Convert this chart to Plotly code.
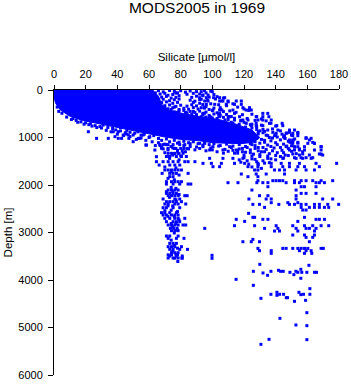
import plotly.graph_objects as go

title = "MODS2005 in 1969"
x_label = "Silicate [µmol/l]"
y_label = "Depth [m]"
x_ticks = [0, 20, 40, 60, 80, 100, 120, 140, 160, 180]
y_ticks = [0, 1000, 2000, 3000, 4000, 5000, 6000]
blue = "#0000ff"

# outline of the saturated core, where individual samples merge
core_si = [0, 62, 66, 68, 72, 82, 92, 104, 115, 125, 130, 126, 118, 100, 92, 80, 70, 60, 52, 44, 36, 28, 18, 10, 4, 1, 0]
core_depth = [0, 0, 130, 300, 420, 500, 560, 620, 720, 840, 1000, 1100, 1130, 1110, 1070, 1040, 990, 920, 870, 820, 760, 710, 640, 550, 420, 280, 150]

# shallow speckled samples above the core
upper_si = [62, 66, 69, 73, 76, 80, 83, 86, 90, 95, 99, 88, 92, 96, 101, 78, 84, 90, 94, 98, 87, 103, 107, 93, 97, 102, 106, 110, 88, 92, 99, 104, 109, 113, 116, 120, 123, 96, 101, 106, 111, 115, 119, 125, 128, 131, 134, 127, 122, 137, 131, 125, 140]
upper_depth = [25, 15, 40, 10, 30, 15, 45, 20, 35, 12, 25, 70, 85, 60, 95, 60, 90, 130, 120, 150, 155, 140, 170, 195, 215, 190, 230, 250, 260, 280, 290, 310, 330, 290, 360, 400, 430, 350, 380, 420, 440, 470, 520, 510, 560, 610, 650, 640, 600, 700, 740, 720, 760]
fill_si = [64, 67, 70, 72, 75, 77, 79, 68, 71, 74, 77, 66, 69, 73, 76, 79, 68, 71, 75, 78, 86, 89, 92, 70, 73, 77, 80, 84, 87, 90, 94, 72, 75, 79, 82, 85, 88, 91, 95, 98, 76, 79, 83, 86, 89, 92, 96, 100, 103, 107, 84, 87, 90, 94, 98, 101, 105, 109, 112, 95, 99, 103, 107, 110, 114, 118, 120, 70, 74, 78, 84, 90, 96, 100, 108, 112, 117, 121, 125, 129, 132, 118, 124, 128, 110, 104, 95, 88, 82, 76]
fill_depth = [60, 85, 70, 110, 95, 65, 120, 150, 135, 170, 155, 210, 195, 225, 205, 190, 265, 250, 280, 260, 215, 235, 205, 330, 315, 345, 320, 340, 310, 335, 305, 395, 375, 410, 385, 405, 370, 400, 380, 410, 460, 440, 470, 450, 475, 445, 465, 435, 480, 455, 530, 510, 540, 515, 535, 505, 530, 515, 560, 590, 570, 600, 575, 620, 595, 640, 680, 380, 410, 470, 480, 520, 570, 590, 630, 680, 720, 780, 800, 880, 830, 650, 730, 770, 560, 530, 490, 450, 430, 360]

# right edge of the shallow cloud, each depth row with its silicate readings
edge_depths = [35, 105, 162, 232, 302, 372, 422, 492, 562, 632, 702, 751, 843, 892, 962, 1004, 1053, 1102, 1123, 1194, 1264, 1348, 1369, 1425]
edge_si = [
    [93, 100],
    [94, 97.3],
    [92, 96.2, 100.8, 104.6, 107.8],
    [95.2, 97.3, 104.6, 106.7, 109.9, 115.1, 118.3],
    [96.2, 101.5, 108.8, 114, 118.3],
    [93, 95, 105, 119.3, 123.5],
    [100.4, 104.6, 113, 121.4, 124.6],
    [94.1, 104.6, 114, 131.9, 135],
    [93, 98.3, 104.6, 110.9, 117.2, 127.7, 131.9, 135.7],
    [114, 119.3, 122.5, 128.8, 131.9, 137.2],
    [93, 113, 121.4, 127.7, 136.1, 144.1],
    [124.6, 127.7, 131.9, 140.7, 144.5],
    [135, 141.4, 148.7, 151.9],
    [138.2, 148.7, 154],
    [139.3, 145.6, 150.8, 154],
    [145.6, 159.2],
    [148.7, 150.8, 161.3],
    [149.8, 154, 163.4],
    [164.5],
    [151.9, 154, 158.2, 168.7],
    [151.9, 158.2, 164.5],
    [168.7],
    [155, 161.3, 169.7],
    [151.9, 156, 159.2, 163.4],
]

# busy band below the core and jagged samples along its lower edge
band_si = [128, 133, 138, 143, 147, 150, 129, 135, 140, 145, 128, 133, 138, 143, 148, 152, 125, 130, 135, 140, 145, 150, 154, 119, 124, 129, 134, 139, 144, 148, 116, 121, 126, 131, 136, 141, 146, 120, 125, 130, 135, 140, 145, 118, 123, 128, 133, 116, 112, 108, 104, 99, 94, 90, 86, 82, 78, 74, 70, 66, 72, 77, 81, 85, 68, 70, 75, 79, 83, 64, 62, 58, 55, 52, 48, 44, 45, 40, 36, 33, 30, 27, 24, 22, 19, 15, 11, 8, 5, 3, 2]
band_depth = [830, 870, 820, 860, 905, 950, 925, 960, 940, 985, 1020, 1060, 1010, 1050, 1080, 1030, 1150, 1120, 1160, 1110, 1140, 1175, 1120, 1230, 1260, 1210, 1250, 1220, 1270, 1230, 1330, 1310, 1350, 1300, 1340, 1320, 1370, 1420, 1450, 1400, 1440, 1470, 1430, 1520, 1560, 1510, 1540, 1280, 1210, 1250, 1180, 1220, 1160, 1200, 1130, 1170, 1120, 1190, 1140, 1110, 1260, 1230, 1280, 1240, 1210, 1320, 1370, 1340, 1300, 1170, 1090, 1060, 1010, 1040, 980, 960, 900, 930, 880, 850, 800, 790, 760, 730, 720, 680, 620, 570, 490, 450, 360]
lower_si = [12, 14, 17, 20, 23, 26, 29, 31, 34, 37, 39, 42, 42, 46, 48, 51, 53, 55, 57, 60, 63, 66, 68, 71, 73, 76, 79, 82, 85, 88, 91, 95, 98, 101, 105, 109, 113, 117, 121, 124, 127]
lower_depth = [600, 640, 670, 690, 710, 750, 770, 740, 790, 810, 840, 860, 790, 850, 890, 910, 880, 950, 930, 1000, 960, 1020, 1060, 1030, 1090, 1060, 1100, 1080, 1110, 1090, 1130, 1110, 1150, 1130, 1170, 1140, 1180, 1150, 1190, 1130, 1170]
cluster_si = [130, 132, 134, 136, 131, 127, 133, 137, 141, 144, 146, 149, 151, 141, 137, 132, 127, 122, 117, 113, 119, 124, 129, 133, 138, 143, 147, 152, 155, 150, 145, 140, 135, 130, 125, 120, 114, 127, 132, 137, 143, 148, 153, 157, 122, 117, 129, 136, 125, 131, 67, 69, 72, 75, 78, 82, 86, 89, 92, 96, 100, 103, 107, 110, 76, 80, 73]
cluster_depth = [860, 900, 950, 1000, 1040, 1090, 1100, 1070, 990, 930, 1020, 1100, 1060, 1150, 1190, 1210, 1230, 1210, 1240, 1270, 1300, 1320, 1280, 1300, 1280, 1210, 1180, 1200, 1240, 1290, 1320, 1380, 1390, 1360, 1390, 1370, 1330, 1460, 1490, 1450, 1400, 1380, 1340, 1300, 1490, 1470, 1570, 1530, 1620, 1650, 1170, 1240, 1150, 1220, 1270, 1230, 1190, 1260, 1230, 1280, 1260, 1300, 1330, 1290, 1340, 1390, 1400]

# isolated samples left of the core's lower edge
wing_si = [21.7, 26.9, 34.3, 37.4, 38.5, 40.6, 40.6, 42.7, 43.7, 45.8, 46.9, 47.3, 50, 50, 53.2, 54.2, 56.3, 58, 58.4, 60.5, 63.7, 64.7]
wing_depth = [878, 1018, 1018, 878, 982, 878, 1018, 1018, 948, 927, 947, 1018, 948, 1088, 1018, 1018, 947, 1158, 1158, 982, 1264, 1404]

# narrow column of deep samples near 75 µmol/l
column_depths = [1150, 1230, 1333, 1400, 1509, 1580, 1684, 1755, 1825, 1930, 1980, 2106, 2176, 2225, 2295, 2351, 2400, 2478, 2583, 2632, 2702, 2772, 2842, 2913, 2962, 3074, 3123, 3229, 3299, 3355, 3425, 3495, 3537, 3470, 3540, 3610]
column_si = [
    [66.8, 68.9, 71, 75.2, 79.4, 82.6],
    [68, 72, 76, 80, 84],
    [72.1, 74.2, 76.3, 78.4, 81.5],
    [71, 73.1, 77.3, 80.5, 83.6],
    [64.7, 68.9, 72.1, 75.2, 78.4, 82.6, 84.7, 89],
    [66.4, 73.1, 76.3, 79.4],
    [70, 72.1, 74.2, 76.3, 78.4, 80.5],
    [68.3, 73.1, 75.2, 77.3, 84.7],
    [73.1, 75.2],
    [71, 74.2, 76.3, 78.4, 80.5],
    [71, 75.2, 79.4, 84.7, 86.4],
    [72.1, 74.2, 76.3, 78.4],
    [71, 73.1, 75.2, 77.3],
    [72.1, 74.2, 76.3, 78.4, 82.6, 84.1],
    [68.9, 76.3, 79.4],
    [71, 73.1, 75.2, 77.3, 80.5],
    [70, 72.1, 76.3, 78.4, 83.2],
    [68.9, 71, 75.2, 79.4],
    [67.9, 70, 73.1, 77.3],
    [68.9, 71, 74.2, 76.3, 78.4],
    [70, 73.1, 76.3, 78.4, 82.6],
    [71, 75.2, 77.3, 79.4],
    [72.1, 74.2, 76.3, 78.4, 81.5, 83.2],
    [73.5, 75.6, 77.7],
    [74.2, 76.3, 78.4],
    [71, 73.1, 78.4],
    [72.1, 77.3, 82.1],
    [73.1, 75.2, 77.3],
    [72.1, 74.2, 76.3, 80.5],
    [73.1, 75.2, 79.4, 84.3],
    [74.2, 76.3, 78.4],
    [73.1, 77.3, 81],
    [72.1, 75.2, 78.4, 80.9],
    [72.1, 74.2, 78],
    [76.3, 80.9],
    [78.2],
]
column_extra_si = [74, 78, 73, 79, 70, 77, 74, 79, 72, 76, 74, 77, 71, 75, 79, 73, 77, 75, 72, 70, 74, 78, 72, 76, 79, 74, 77, 75, 78, 76, 74, 76, 78, 75, 77]
column_extra_depth = [1190, 1290, 1440, 1470, 1620, 1640, 1720, 1790, 1860, 1890, 2050, 2070, 2140, 2140, 2200, 2260, 2310, 2440, 2440, 2540, 2530, 2560, 2660, 2670, 2735, 2810, 2810, 2880, 2950, 3010, 3160, 3270, 3330, 3390, 3460]

# scattered samples to the right of the column
right_depths = [912, 1018, 1123, 1193, 1263, 1347, 1439, 1544, 1614, 1684, 1769, 1825, 1909, 1951, 2036, 2106, 2176, 2225, 2295, 2372, 2408, 2471, 2527, 2597, 2681, 2723, 2766, 2857, 2913, 2969, 3053, 3102, 3145, 3194, 3334, 3383, 3439, 3480]
right_si = [
    [140.3, 146.6, 150.8, 154],
    [159.2, 162.4],
    [92, 95.2, 150.8, 160.3, 164.5],
    [94.1, 100.4, 110.9, 146.6, 168.7],
    [98.3, 106.7, 115.1, 148.7, 155, 168.7],
    [150.8, 157.1, 167.6],
    [98.3, 106.7, 113, 119.3, 144.5, 152.9, 157.1, 162.4],
    [94.1, 99.4, 105.7, 114, 120.4, 128.8, 137.2, 143.5, 148.7, 155, 165.5, 178.5],
    [100.4, 104.6, 122.5, 128.8, 137.2, 144.5, 148.7, 154, 158.2, 167.6],
    [126.7, 128.8, 139.3, 142.4, 145.6, 152.9, 159.2, 164.5],
    [118.3, 127.7, 134, 145.6],
    [122.5, 128.8],
    [128.8, 138.2, 140.3, 142.4, 144.5, 151.9, 156.1, 159.2, 163.4, 168.7, 176],
    [109.9, 116.2, 128.1, 131.9, 135.1, 146.6, 151.9, 155, 165.5, 167.6, 170.8],
    [135.1, 156.1, 158.2, 165.5],
    [125, 152.9],
    [156.1, 159.2, 165.5],
    [129.8, 135.1, 152.9],
    [123.1, 134, 137.2, 152.9, 169.7, 176],
    [137.2, 147.7, 154],
    [125.6, 129.8, 142, 148.7, 151.9, 156.1, 159.2, 164.5, 167.6, 172.9, 179.8],
    [133, 156.1, 161.3, 164.5, 167.6, 170.8, 173.5],
    [157.1, 159.2],
    [122.9],
    [125.6, 126.7, 158.2],
    [115.1, 131.9, 135.1, 165.5, 167.6, 170.8],
    [120.4, 154],
    [114, 126.7, 140.3, 150.8, 158.2, 163.4, 168.7, 173.5],
    [95.2, 133, 141.4, 152.9, 159.2, 161.3, 165.5],
    [139.3, 142.4, 154, 164.5],
    [150.8, 158.2, 164.5],
    [159.2, 163.4],
    [125.6],
    [119.3, 124.6, 129.8, 161.3],
    [128.8, 144.5, 146.6, 150.8, 154, 156.1, 158.2, 160.3, 168.7, 170.1],
    [129.8, 137.2, 155, 159.2, 162.4],
    [137.2, 158.2, 162.8],
    [99.8],
]

# the sparse deepest samples
deep_si = [99.8, 115, 130, 125.9, 132, 134.9, 137, 141.8, 143.1, 144.8, 149, 151.5, 152.8, 154, 155.9, 156.5, 159.7, 161, 164.5, 165.8, 155.9, 125.9, 130.7, 137, 140.8, 140.8, 142.5, 145, 146.7, 147.5, 154.7, 155.9, 157.6, 161.6, 161.6, 151.9, 158.9, 159.7, 142.7, 152.8, 159.7, 135.8, 130.7, 159.7]
deep_depth = [3543, 3986, 3670, 3817, 3852, 3901, 3817, 3796, 3817, 3817, 3838, 3887, 3817, 3838, 3775, 3838, 3838, 3691, 3838, 3838, 3964, 4112, 4386, 4301, 4259, 4322, 4301, 4301, 4372, 4372, 4259, 4308, 4301, 4182, 4301, 4449, 4428, 4688, 4807, 4947, 4961, 5249, 5354, 5256]


def flatten(depths, rows):
    xs, ys = [], []
    for d, row in zip(depths, rows):
        for s in row:
            xs.append(s)
            ys.append(d)
    return xs, ys


groups = [
    (upper_si, upper_depth),
    (fill_si, fill_depth),
    flatten(edge_depths, edge_si),
    (band_si, band_depth),
    (lower_si, lower_depth),
    (cluster_si, cluster_depth),
    (wing_si, wing_depth),
    flatten(column_depths, column_si),
    (column_extra_si, column_extra_depth),
    flatten(right_depths, right_si),
    (deep_si, deep_depth),
]

fig = go.Figure()
fig.add_trace(go.Scatter(x=core_si, y=core_depth, mode="lines", fill="toself",
                         fillcolor=blue, line=dict(color=blue, width=1), hoverinfo="skip"))
for xs, ys in groups:
    fig.add_trace(go.Scatter(x=xs, y=ys, mode="markers", cliponaxis=False,
                             marker=dict(symbol="square", size=3, color=blue, line=dict(width=0))))

axis_font = dict(family="Liberation Sans", size=11, color="black")
fig.update_layout(
    width=351, height=384, showlegend=False,
    margin=dict(l=54, r=11.5, t=90, b=9),
    paper_bgcolor="white", plot_bgcolor="white",
    title=dict(text=title, x=197 / 351, xanchor="center", y=1 - 8 / 384, yanchor="middle",
               font=dict(family="Liberation Sans", size=15.5, color="black")),
    font=axis_font,
    xaxis=dict(side="top", range=[0, 180], tickvals=x_ticks, ticks="outside", ticklen=4, tickwidth=1,
               tickcolor="black", showline=True, linecolor="black", linewidth=1, showgrid=False,
               zeroline=False, tickangle=0, automargin=False, ticklabelstandoff=3,
               title=dict(text=x_label, standoff=3, font=dict(family="Liberation Sans", size=11.5, color="black")),
               tickfont=axis_font),
    yaxis=dict(range=[6000, 0], tickvals=y_ticks, ticks="outside", ticklen=5, tickwidth=1,
               tickcolor="black", showline=True, linecolor="black", linewidth=1, showgrid=False,
               zeroline=False, ticklabelstandoff=3, automargin=False,
               title=dict(text=y_label, standoff=3, font=dict(family="Liberation Sans", size=11.5, color="black")),
               tickfont=axis_font),
)
fig.write_html("out.html", config=dict(displayModeBar=False),
               post_script="document.body.style.margin='0';document.body.style.overflow='hidden';")
